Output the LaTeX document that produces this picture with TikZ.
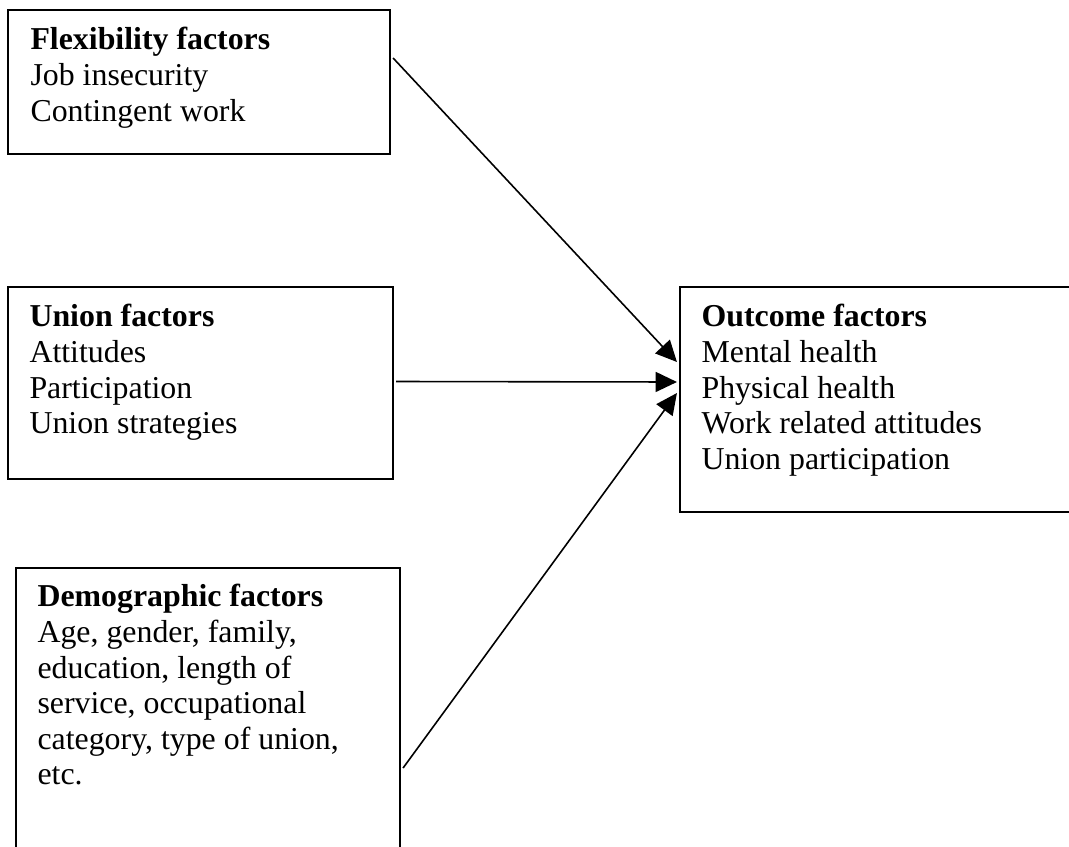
\documentclass[tikz,border=0pt]{standalone}
\usepackage{fontspec}
\setmainfont{Liberation Serif}
\usetikzlibrary{calc,fit,arrows.meta}

\begin{document}
\begin{tikzpicture}[x=0.3768pt, y=-0.3768pt,
    factorbox/.style={draw, line width=0.8pt, inner sep=0pt},
    factortext/.style={anchor=north west, inner sep=0pt, align=left,
      font=\fontsize{12}{13.4}\selectfont},
    arr/.style={line width=0.6pt, -{Triangle[length=8pt,width=7.5pt]}}]
  \clip (0,0) rectangle (1069,846);

  % Boxes
  \node[factorbox, fit={(8,10) (390,154)}] (flex) {};
  \node[factorbox, fit={(8,287) (393,479)}] (union) {};
  \node[factorbox, fit={(16,568) (400,880)}] (demo) {};
  \node[factorbox, fit={(680,287) (1090,512)}] (outcome) {};

  % Texts
  \node[factortext] (flextext) at (30,27) {\textbf{Flexibility factors}\\Job insecurity\\Contingent work};
  \node[factortext] (uniontext) at (29,304) {\textbf{Union factors}\\Attitudes\\Participation\\Union strategies};
  \node[factortext] (demotext) at (37,584) {\textbf{Demographic factors}\\Age, gender, family,\\education, length of\\service, occupational\\category, type of union,\\etc.};
  \node[factortext] (outcometext) at (701,304) {\textbf{Outcome factors}\\Mental health\\Physical health\\Work related attitudes\\Union participation};

  % Arrows
  \draw[arr] ($(flex.east)+(2,-24)$) -- ($(outcome.west)+(-2,-37.5)$);
  \draw[arr] ($(union.east)+(2,-1.5)$) -- ($(outcome.west)+(-2,-17.5)$);
  \draw[arr] ($(demo.east)+(2,44)$) -- ($(outcome.west)+(-2,-6.5)$);
\end{tikzpicture}
\end{document}
